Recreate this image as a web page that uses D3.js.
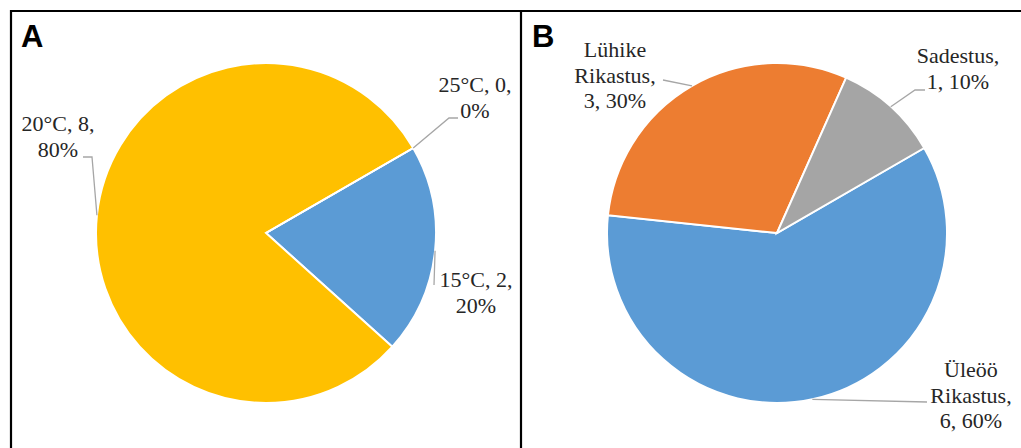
<!DOCTYPE html>
<html>
<head>
  <meta charset="utf-8" />
  <title>Pies</title>
  <style>
    body { margin: 0; background: #fff; }
    .panel { font-family: "Liberation Sans", Arial, sans-serif; font-size: 31px; font-weight: 900; fill: #000; }
  </style>
  <script src="https://cdnjs.cloudflare.com/ajax/libs/d3/7.8.5/d3.min.js"></script>
</head>
<body>
  <script>
    // panel A: temperature
    var tempCats = ['15°C', '20°C', '25°C'];
    var tempVals = [2, 8, 0];
    var tempColors = ['#5B9BD5', '#FFC000', '#A5A5A5'];
    // panel B: method
    var procCats = ['Üleöö Rikastus', 'Lühike Rikastus', 'Sadestus'];
    var procVals = [6, 3, 1];
    var procColors = ['#5B9BD5', '#ED7D31', '#A5A5A5'];

    var w = 1021, h = 448, r = 170;
    var serif = "'Liberation Serif', 'Times New Roman', Tinos, serif";

    var svg = d3.select('body').append('svg')
      .attr('width', w)
      .attr('height', h);

    // panel frames
    svg.append('path')
      .attr('d', 'M11,460 V11 H521 V460 M521,11 H1030')
      .attr('fill', 'none')
      .attr('stroke', '#000')
      .attr('stroke-width', 2.2);

    svg.append('text').attr('class', 'panel').attr('x', 21).attr('y', 47).text('A');
    svg.append('text').attr('class', 'panel').attr('x', 532).attr('y', 47).text('B');

    var pie = d3.pie().sort(null)
      .startAngle(Math.PI / 3)
      .endAngle(Math.PI / 3 + 2 * Math.PI);
    var arc = d3.arc().innerRadius(0).outerRadius(r);

    // label layout: text centre / first baseline and leader bends, relative to pie centre
    var layoutA = [
      { tx: 210, ty: 54, bends: [[168, 52]] },
      { tx: -208, ty: -102, bends: [[-174, -76], [-183, -76]] },
      { tx: 209, ty: -141, bends: [[183, -115], [192, -115]] }
    ];
    var layoutB = [
      { tx: 194, ty: 144, bends: [[150, 169]] },
      { tx: -162, ty: -176, bends: [[-114, -153]] },
      { tx: 181, ty: -170, bends: [[138, -143], [148, -143]] }
    ];

    function drawPie(cx, cy, cats, vals, colors, layout) {
      var total = d3.sum(vals);
      var g = svg.append('g').attr('transform', 'translate(' + cx + ',' + cy + ')');
      var arcs = pie(vals);

      g.selectAll('path.slice')
        .data(arcs)
        .enter()
        .append('path')
        .attr('class', 'slice')
        .attr('d', arc)
        .attr('fill', (d, i) => colors[i])
        .attr('stroke', '#fff')
        .attr('stroke-width', 2);

      arcs.forEach(function (d, i) {
        var a = (d.startAngle + d.endAngle) / 2;
        var p0 = [r * Math.sin(a), -r * Math.cos(a)];
        var pts = [p0].concat(layout[i].bends);
        g.append('path')
          .attr('d', d3.line()(pts))
          .attr('fill', 'none')
          .attr('stroke', '#A6A6A6')
          .attr('stroke-width', 1.3);

        // wrap "category, value, pct%" into lines
        var pct = Math.round(vals[i] / total * 100);
        var words = (cats[i] + ', ' + vals[i] + ', ' + pct + '%').split(' ');
        var t = g.append('text')
          .attr('font-family', serif)
          .attr('font-size', 22)
          .attr('fill', '#262626')
          .attr('text-anchor', 'middle');
        var lines = [], cur = '';
        var probe = t.append('tspan');
        words.forEach(function (wd) {
          var test = cur ? cur + ' ' + wd : wd;
          probe.text(test);
          if (cur && probe.node().getComputedTextLength() > 90) {
            lines.push(cur);
            cur = wd;
          } else {
            cur = test;
          }
        });
        lines.push(cur);
        probe.remove();
        lines.forEach(function (ln, k) {
          t.append('tspan')
            .attr('x', layout[i].tx)
            .attr('y', layout[i].ty + k * 25.7)
            .text(ln);
        });
      });
    }

    drawPie(266, 233, tempCats, tempVals, tempColors, layoutA);
    drawPie(777, 233, procCats, procVals, procColors, layoutB);
  </script>
</body>
</html>
